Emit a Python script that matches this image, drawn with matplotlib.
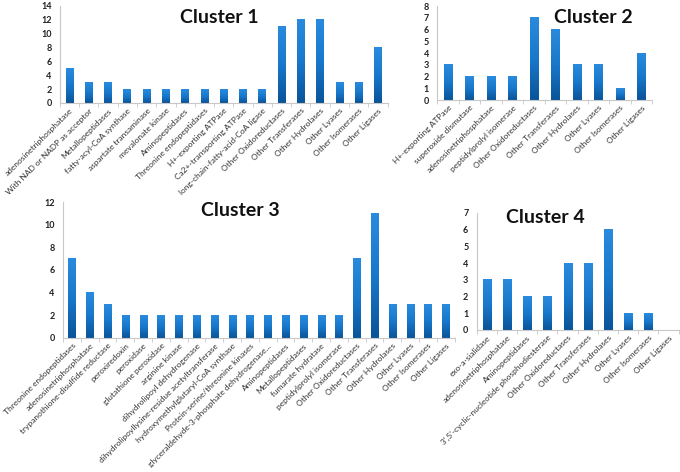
import numpy as np
import matplotlib
matplotlib.use("Agg")
import matplotlib.pyplot as plt
from matplotlib.colors import LinearSegmentedColormap

plt.rcParams['font.family'] = ['Lato', 'DejaVu Sans']

# Cluster data
c1_labels = ["adenosinetriphosphatase", "With NAD or NADP as acceptor", "Metallopeptidases",
             "fatty-acyl-CoA synthase", "aspartate transaminase", "mevalonate kinase",
             "Aminopeptidases", "Threonine endopeptidases", "H+-exporting ATPase",
             "Ca2+-transporting ATPase", "long-chain-fatty-acid-CoA ligase",
             "Other Oxidoreductases", "Other Transferases", "Other Hydrolases",
             "Other Lyases", "Other Isomerases", "Other Ligases"]
c1_values = [5, 3, 3, 2, 2, 2, 2, 2, 2, 2, 2, 11, 12, 12, 3, 3, 8]

c2_labels = ["H+-exporting ATPase", "superoxide dismutase", "adenosinetriphosphatase",
             "peptidylprolyl isomerase", "Other Oxidoreductases", "Other Transferases",
             "Other Hydrolases", "Other Lyases", "Other Isomerases", "Other Ligases"]
c2_values = [3, 2, 2, 2, 7, 6, 3, 3, 1, 4]

c3_labels = ["Threonine endopeptidases", "adenosinetriphosphatase",
             "trypanothione-disulfide reductase", "peroxiredoxin", "peroxidase",
             "glutathione peroxidase", "arginine kinase", "dihydrolipoyl dehydrogenase",
             "dihydrolipoyllysine-residue acetyltransferase",
             "hydroxymethylglutaryl-CoA synthase", "Protein-serine/threonine kinases",
             "glyceraldehyde-3-phosphate dehydrogenase...", "Aminopeptidases",
             "Metallopeptidases", "fumarate hydratase", "peptidylprolyl isomerase",
             "Other Oxidoreductases", "Other Transferases", "Other Hydrolases",
             "Other Lyases", "Other Isomerases", "Other Ligases"]
c3_values = [7, 4, 3, 2, 2, 2, 2, 2, 2, 2, 2, 2, 2, 2, 2, 2, 7, 11, 3, 3, 3, 3]

c4_labels = ["exo-a-sialidase", "adenosinetriphosphatase", "Aminopeptidases",
             "3',5'-cyclic-nucleotide phosphodiesterase", "Other Oxidoreductases",
             "Other Transferases", "Other Hydrolases", "Other Lyases",
             "Other Isomerases", "Other Ligases"]
c4_values = [3, 3, 2, 2, 4, 4, 6, 1, 1, 0]

grad = LinearSegmentedColormap.from_list("bluegrad", ["#0a5499", "#1878cc", "#2a8ade"])


def draw_cluster(ax, labels, values, title, ymax, ystep, title_xy):
    x = np.arange(len(values))
    bars = ax.bar(x, values, width=0.4, color="none")
    # gradient fill for each bar
    g = np.linspace(0, 1, 64).reshape(-1, 1)
    for b in bars:
        if b.get_height() <= 0:
            continue
        ax.imshow(g, extent=[b.get_x(), b.get_x() + b.get_width(), 0, b.get_height()],
                  origin="lower", aspect="auto", cmap=grad, zorder=2)
    ax.set_xlim(-0.5, len(values) - 0.5)
    ax.set_ylim(0, ymax)
    ax.set_yticks(np.arange(0, ymax + 0.01, ystep))
    ax.set_xticks(x)
    ax.set_xticklabels(labels, rotation=45, ha="right", rotation_mode="anchor",
                       fontsize=6.0, color="#333333")
    ax.set_xticks(np.arange(-0.5, len(values)), minor=True)
    ax.tick_params(axis="x", which="major", length=0, pad=3)
    ax.tick_params(axis="x", which="minor", length=3, color="#c8c8c8")
    ax.tick_params(axis="y", length=0, labelsize=6.5, pad=6)
    for t in ax.get_yticklabels():
        t.set_fontweight("bold")
        t.set_color("#222222")
    for s in ["top", "right"]:
        ax.spines[s].set_visible(False)
    for s in ["left", "bottom"]:
        ax.spines[s].set_color("#c8c8c8")
        ax.spines[s].set_linewidth(0.8)
    ax.text(title_xy[0], title_xy[1], title, transform=ax.figure.transFigure,
            ha="center", va="center", fontsize=14, fontweight="bold", color="#111111")


fig = plt.figure(figsize=(6.8, 4.72), dpi=100)
ax1 = fig.add_axes([0.088, 0.782, 0.482, 0.2055])
ax2 = fig.add_axes([0.643, 0.788, 0.316, 0.199])
ax3 = fig.add_axes([0.0926, 0.284, 0.576, 0.288])
ax4 = fig.add_axes([0.701, 0.301, 0.297, 0.248])

draw_cluster(ax1, c1_labels, c1_values, "Cluster 1", 14, 2, (0.323, 0.962))
draw_cluster(ax2, c2_labels, c2_values, "Cluster 2", 8, 1, (0.873, 0.962))
draw_cluster(ax3, c3_labels, c3_values, "Cluster 3", 12, 2, (0.354, 0.555))
draw_cluster(ax4, c4_labels, c4_values, "Cluster 4", 7, 1, (0.802, 0.54))

fig.savefig("out.png", dpi=100)
